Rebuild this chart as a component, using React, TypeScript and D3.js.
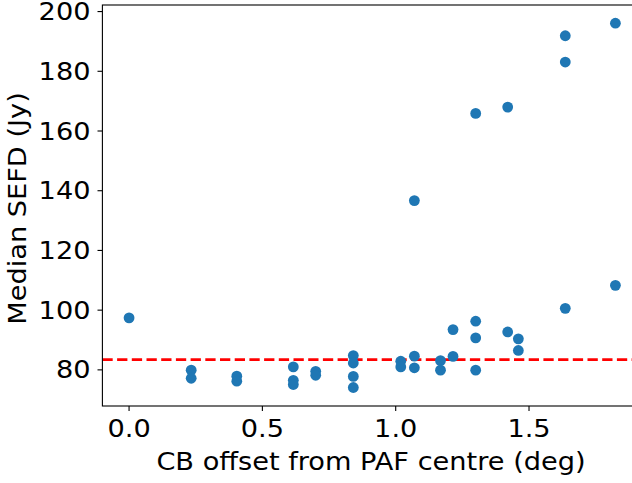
import React from "react";
import * as d3 from "d3";

const offsets = [
  0, 0.233, 0.233, 0.404, 0.404, 0.616, 0.616, 0.616, 0.7, 0.7,
  0.841, 0.841, 0.841, 0.841, 1.019, 1.019, 1.07, 1.07, 1.07,
  1.168, 1.168, 1.215, 1.215, 1.3, 1.3, 1.3, 1.3, 1.42, 1.42,
  1.46, 1.46, 1.636, 1.636, 1.636, 1.824, 1.824,
];
const sefd = [
  97.4, 79.9, 77.2, 77.9, 76.2, 81.0, 76.5, 75.1, 79.5, 78.2,
  84.8, 82.3, 77.8, 74.1, 82.9, 81.0, 84.6, 80.7, 136.7,
  83.1, 79.9, 93.5, 84.5, 165.9, 96.3, 90.7, 79.9, 168.0, 92.7,
  90.4, 86.5, 191.9, 183.1, 100.6, 196.1, 108.3,
];
const medianLine = 83.45;
const xTicks = [0, 0.5, 1.0, 1.5];
const yTicks = [80, 100, 120, 140, 160, 180, 200];
const xLabel = "CB offset from PAF centre (deg)";
const yLabel = "Median SEFD (Jy)";

const W = 632;
const H = 483;
const left = 102.4;
const right = 634.5;
const top = 5;
const bottom = 406;
const font = "'DejaVu Sans', sans-serif";
const fs = 24.5;
const sx = 1.11;

export default function App() {
  const x = d3.scaleLinear().domain([-0.1, 1.8956]).range([left, right]);
  const y = d3.scaleLinear().domain([67.9, 202.2]).range([bottom, top]);
  return (
    <svg
      width={W}
      height={H}
      style={{ position: "absolute", left: 0, top: 0 }}
      fontFamily={font}
    >
      <rect x={0} y={0} width={W} height={H} fill="white" />
      <defs>
        <clipPath id="plot">
          <rect x={left} y={top} width={right - left} height={bottom - top} />
        </clipPath>
      </defs>
      <g clipPath="url(#plot)">
        <line
          x1={left}
          x2={right}
          y1={y(medianLine)}
          y2={y(medianLine)}
          stroke="#ff0000"
          strokeWidth={2.8}
          strokeDasharray="10.3,4.4"
        />
        {offsets.map((o, i) => (
          <circle key={i} cx={x(o)} cy={y(sefd[i])} r={5.4} fill="#1f77b4" />
        ))}
      </g>
      <rect
        x={left}
        y={top}
        width={right - left}
        height={bottom - top}
        fill="none"
        stroke="#000"
        strokeWidth={1.1}
      />
      {xTicks.map((t) => (
        <g key={t}>
          <line x1={x(t)} x2={x(t)} y1={bottom} y2={bottom + 4.9} stroke="#000" strokeWidth={1.1} />
          <text
            transform={`translate(${x(t)}, 436.7) scale(${sx},1)`}
            fontSize={fs}
            textAnchor="middle"
            fill="#000"
          >
            {t.toFixed(1)}
          </text>
        </g>
      ))}
      {yTicks.map((t) => (
        <g key={t}>
          <line x1={left - 4.9} x2={left} y1={y(t)} y2={y(t)} stroke="#000" strokeWidth={1.1} />
          <text
            transform={`translate(90.5, ${y(t)}) scale(${sx},1)`}
            fontSize={fs}
            textAnchor="end"
            dominantBaseline="central"
            fill="#000"
          >
            {t}
          </text>
        </g>
      ))}
      <text
        transform={`translate(371, 469.5) scale(${sx},1)`}
        fontSize={fs}
        textAnchor="middle"
        fill="#000"
      >
        {xLabel}
      </text>
      <text
        transform={`translate(25.7, 208.5) rotate(-90) scale(${sx},1)`}
        fontSize={fs}
        textAnchor="middle"
        fill="#000"
      >
        {yLabel}
      </text>
    </svg>
  );
}
